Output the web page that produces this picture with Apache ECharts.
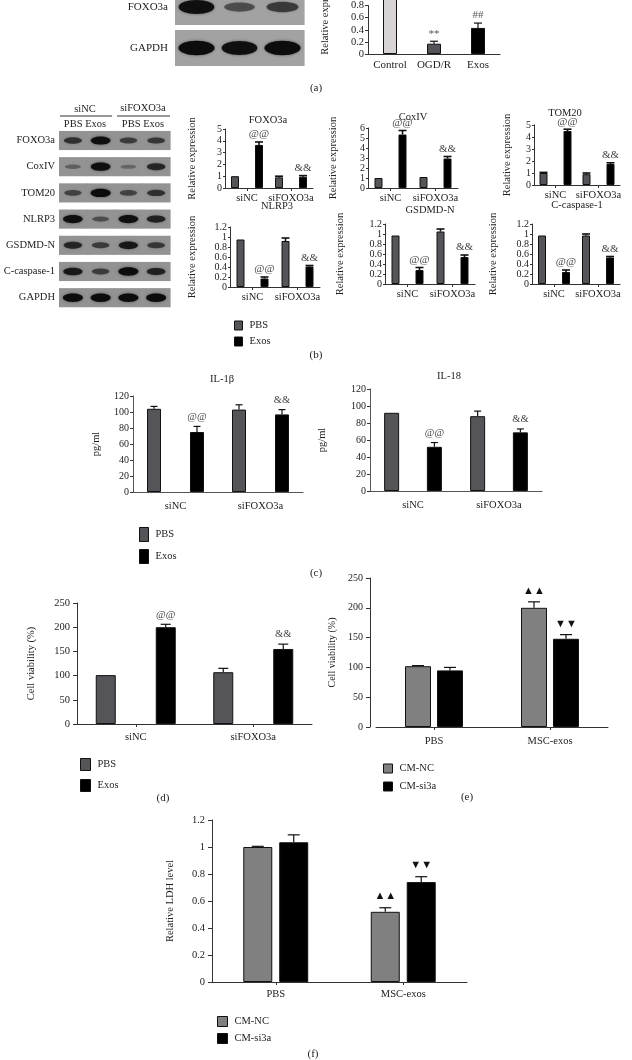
<!DOCTYPE html>
<html>
<head>
<meta charset="utf-8">
<script src="https://cdn.jsdelivr.net/npm/echarts@6/dist/echarts.min.js"></script>
<style>
  html, body { margin: 0; padding: 0; background: #fff; }
  #fig { width: 632px; height: 1060px; }
</style>
</head>
<body>
<div id="fig"></div>
<script>
// ---- data ----
// (a)
const aBlotRows = ['FOXO3a', 'GAPDH'];
const aBlotBands = [[0.95, 0.4, 0.55], [1, 0.95, 1]];
const aCats = ['Control', 'OGD/R', 'Exos'];
const aVals = [1.0, 0.17, 0.43];
const aErr = [1.0, 0.21, 0.51];
const aMarks = ['', '**', '##'];

// (b)
const bBlotRows = ['FOXO3a', 'CoxIV', 'TOM20', 'NLRP3', 'GSDMD-N', 'C-caspase-1', 'GAPDH'];
const bBlotBands = [
  [0.6, 0.95, 0.5, 0.55],
  [0.2, 0.95, 0.15, 0.7],
  [0.45, 1.0, 0.45, 0.6],
  [0.95, 0.35, 0.95, 0.75],
  [0.7, 0.5, 0.85, 0.55],
  [0.85, 0.5, 1.0, 0.75],
  [1, 1, 1, 1]
];
const bCats = ['siNC', 'siFOXO3a'];
const bTitles = ['FOXO3a', 'CoxIV', 'TOM20', 'NLRP3', 'GSDMD-N', 'C-caspase-1'];
const bMax = [5, 6, 5, 1.2, 1.2, 1.2];
const bStep = [1, 1, 1, 0.2, 0.2, 0.2];
const bPbs = [[1.0, 0.9], [1.0, 1.1], [1.0, 0.9], [0.95, 0.92], [0.97, 1.05], [0.97, 0.97]];
const bPbsErr = [[1.0, 1.0], [1.0, 1.15], [1.05, 1.0], [0.95, 0.98], [0.97, 1.1], [0.97, 1.0]];
const bExos = [[3.65, 0.95], [5.35, 2.95], [4.5, 1.75], [0.17, 0.41], [0.28, 0.54], [0.24, 0.53]];
const bExosErr = [[3.9, 1.05], [5.75, 3.15], [4.65, 1.85], [0.2, 0.43], [0.33, 0.58], [0.28, 0.55]];
const bExosMarks = ['@@', '&&'];

// (c)
const cCats = ['siNC', 'siFOXO3a'];
const il1bPbs = [104, 103];
const il1bPbsErr = [107, 109];
const il1bExos = [75, 97];
const il1bExosErr = [82, 103];
const il18Pbs = [92, 88];
const il18PbsErr = [92, 94];
const il18Exos = [52, 69];
const il18ExosErr = [57, 73];

// (d)
const dCats = ['siNC', 'siFOXO3a'];
const dPbs = [101, 107];
const dPbsErr = [101, 115];
const dExos = [200, 155];
const dExosErr = [206, 165];

// (e)
const eCats = ['PBS', 'MSC-exos'];
const eNc = [102, 200];
const eNcErr = [103, 210];
const eSi = [95, 148];
const eSiErr = [100, 155];

// (f)
const fCats = ['PBS', 'MSC-exos'];
const fNc = [1.0, 0.52];
const fNcErr = [1.005, 0.55];
const fSi = [1.035, 0.74];
const fSiErr = [1.09, 0.78];

const ncMarks = ['', '▲▲'];
const siMarks = ['', '▼▼'];

// ---- styling ----
const FONT = 'Liberation Serif';
const TXT = '#222';
const DARK = '#555559';
const MID = '#808080';

const grids = [], xAxes = [], yAxes = [], series = [], legends = [], graphics = [];

function addGrid(box) {
  grids.push(box);
  return grids.length - 1;
}

function catX(gi, cats, o) {
  xAxes.push({
    type: 'category', gridIndex: gi, data: cats,
    axisLine: { lineStyle: { color: o.lineColor || '#333', width: 1 } },
    axisTick: { show: o.tick !== false, alignWithLabel: true, length: 3, lineStyle: { color: '#333' } },
    axisLabel: { fontFamily: FONT, fontSize: o.fs || 11, color: TXT, margin: o.margin || 6, interval: 0 }
  });
}

function valY(gi, min, max, step, o) {
  yAxes.push({
    type: 'value', gridIndex: gi, min, max, interval: step,
    name: o.name, nameLocation: 'middle', nameGap: o.nameGap, nameRotate: 90,
    nameTextStyle: { fontFamily: FONT, fontSize: o.nfs || 10, color: TXT },
    axisLine: { show: true, lineStyle: { color: o.lineColor || '#333', width: 1 } },
    axisTick: { show: true, length: o.tickLen || 3, lineStyle: { color: '#333' } },
    axisLabel: {
      fontFamily: FONT, fontSize: o.fs || 10, color: TXT, margin: o.margin || 4,
      showMinLabel: true, showMaxLabel: true
    },
    splitLine: { show: false }
  });
}

function errSeries(gi, vals, errs, marks, off, o) {
  return {
    type: 'custom', xAxisIndex: gi, yAxisIndex: gi, z: 5, silent: true, clip: false,
    data: vals.map((v, i) => [i, v, errs[i]]),
    renderItem: (params, api) => {
      const i = params.dataIndex;
      const b = api.coord([api.value(0), api.value(1)]);
      const t = api.coord([api.value(0), api.value(2)]);
      const x = b[0] + off;
      const lw = o.lw || 1.2;
      const kids = [];
      if (t[1] < b[1] - 0.5) {
        kids.push({ type: 'line', shape: { x1: x, y1: b[1], x2: x, y2: t[1] }, style: { stroke: '#111', lineWidth: lw } });
        kids.push({ type: 'line', shape: { x1: x - o.cap / 2, y1: t[1], x2: x + o.cap / 2, y2: t[1] }, style: { stroke: '#111', lineWidth: lw } });
      }
      if (marks && marks[i]) {
        kids.push({
          type: 'text', x: x, y: t[1] - (o.markGap || 2),
          style: {
            text: marks[i], fill: o.markColor || '#333', fontFamily: FONT, fontSize: o.mfs || 11,
            align: 'center', verticalAlign: 'bottom', textAlign: 'center', textVerticalAlign: 'bottom'
          }
        });
      }
      return { type: 'group', children: kids };
    }
  };
}

function barPair(gi, names, colors, vals, errs, marks, bw, gap, o) {
  const off = bw * (1 + gap) / 2;
  names.forEach((nm, k) => {
    series.push({
      type: 'bar', name: nm, xAxisIndex: gi, yAxisIndex: gi, data: vals[k],
      barWidth: bw, barGap: (gap * 100) + '%', z: 2,
      itemStyle: { color: colors[k], borderColor: '#111', borderWidth: 1 }
    });
    series.push(errSeries(gi, vals[k], errs[k], marks[k], k === 0 ? -off : off, o));
  });
}

// western blot strip: lanes on x, rows on an inverted y, row names drawn left of lane 0
function blot(box, rows, bands, o) {
  const gi = addGrid(box);
  xAxes.push({ type: 'value', gridIndex: gi, min: -0.5, max: bands[0].length - 0.5, show: false });
  yAxes.push({ type: 'value', gridIndex: gi, min: o.yMin, max: o.yMax, inverse: true, show: false });
  const data = [];
  bands.forEach((r, ri) => r.forEach((v, li) => data.push([li, ri, v])));
  series.push({
    type: 'custom', xAxisIndex: gi, yAxisIndex: gi, silent: true, clip: false, data,
    renderItem: (params, api) => {
      const li = api.value(0), ri = api.value(1), I = api.value(2);
      const c = api.coord([li, ri]);
      const s = api.size([1, 1]);
      const h = s[1] * o.boxFrac;
      const kids = [
        { type: 'rect', shape: { x: c[0] - s[0] / 2, y: c[1] - h / 2, width: s[0] + 0.6, height: h }, style: { fill: o.bg } },
        {
          type: 'ellipse',
          shape: { cx: c[0], cy: c[1], rx: s[0] * o.bandFrac * (0.75 + 0.25 * I), ry: h * o.bandH * (0.4 + 0.6 * I) },
          style: { fill: 'rgba(12,12,12,' + (0.2 + 0.8 * I) + ')', shadowBlur: 3, shadowColor: 'rgba(12,12,12,' + (0.5 * I) + ')' }
        }
      ];
      if (li === 0) {
        kids.push({
          type: 'text', x: c[0] - s[0] / 2 - o.margin, y: c[1],
          style: {
            text: rows[ri], fill: TXT, fontFamily: FONT, fontSize: o.fs,
            align: 'right', verticalAlign: 'middle', textAlign: 'right', textVerticalAlign: 'middle'
          }
        });
      }
      return { type: 'group', children: kids };
    }
  });
}

function text(x, y, str, fs, rot) {
  graphics.push({
    type: 'text', x, y, rotation: rot || 0, silent: true,
    style: {
      text: str, fill: TXT, fontFamily: FONT, fontSize: fs,
      align: 'center', verticalAlign: 'middle', textAlign: 'center', textVerticalAlign: 'middle'
    }
  });
}

function legend(left, top, names, iw, ih, gap) {
  legends.push({
    left, top, orient: 'vertical', itemWidth: iw, itemHeight: ih, itemGap: gap,
    icon: 'rect', data: names, selectedMode: false,
    itemStyle: { borderColor: '#111', borderWidth: 1 },
    textStyle: { fontFamily: FONT, fontSize: 10.5, color: TXT, padding: [0, 0, 0, 2] }
  });
}

// ---- panel (a) ----
blot({ left: 175, top: 0, width: 129, height: 66 }, aBlotRows, aBlotBands,
  { fs: 11, margin: 7, boxFrac: 0.88, bandFrac: 0.42, bandH: 0.2, bg: '#a2a2a2', yMin: -0.171, yMax: 1.439 });

const aColors = ['#d8d4d6', DARK, '#000'];
{
  const gi = addGrid({ left: 368, top: 0, width: 132, height: 54 });
  catX(gi, aCats, { fs: 11, margin: 6, tick: false });
  valY(gi, 0, 0.8, 0.2, { fs: 10.5 });
  series.push({
    type: 'bar', name: 'FOXO3a level', xAxisIndex: gi, yAxisIndex: gi, barWidth: 14, z: 2, clip: false,
    data: aVals.map((v, i) => ({ value: v, itemStyle: { color: aColors[i] } })),
    itemStyle: { borderColor: '#111', borderWidth: 1 }
  });
  series.push(errSeries(gi, aVals, aErr, aMarks, 0, { cap: 8, lw: 1.2, mfs: 11, markGap: 2, markColor: '#555' }));
}
text(325, 13.5, 'Relative expression', 10.5, Math.PI / 2);
text(316, 88, '(a)', 11);

// ---- panel (b) ----
blot({ left: 59, top: 127.4, width: 111, height: 183.4 }, bBlotRows, bBlotBands,
  { fs: 10.5, margin: 4, boxFrac: 0.73, bandFrac: 0.36, bandH: 0.22, bg: '#939393', yMin: -0.5, yMax: 6.5 });
text(85, 109, 'siNC', 10.5);
text(143, 108, 'siFOXO3a', 10.5);
text(85, 124, 'PBS Exos', 10.5);
text(143, 124, 'PBS Exos', 10.5);
graphics.push({ type: 'line', silent: true, shape: { x1: 60, y1: 116, x2: 112, y2: 116 }, style: { stroke: '#333', lineWidth: 1 } });
graphics.push({ type: 'line', silent: true, shape: { x1: 117, y1: 116, x2: 170, y2: 116 }, style: { stroke: '#333', lineWidth: 1 } });

const bBoxes = [
  { left: 225, top: 129, width: 88, height: 59 },
  { left: 368, top: 128, width: 90, height: 60 },
  { left: 534, top: 125, width: 86, height: 60 },
  { left: 230, top: 227, width: 90, height: 60 },
  { left: 385, top: 224, width: 90, height: 60 },
  { left: 532, top: 224, width: 88, height: 60 }
];
const bNameGaps = [27, 29, 21, 32, 39, 33];
const bTitlePos = [[268, 120], [413, 117], [565, 113], [277, 206], [430, 210], [577, 205]];
bBoxes.forEach((box, k) => {
  const gi = addGrid(box);
  catX(gi, bCats, { fs: 10.5, margin: 5 });
  valY(gi, 0, bMax[k], bStep[k], { name: 'Relative expression', nameGap: bNameGaps[k], fs: 10, nfs: 10.5, tickLen: 2, margin: 3 });
  barPair(gi, ['PBS', 'Exos'], [DARK, '#000'],
    [bPbs[k], bExos[k]], [bPbsErr[k], bExosErr[k]], [null, bExosMarks],
    8, 2, { cap: 8, lw: 1.6, mfs: 11, markGap: 2, markColor: '#444' });
  text(bTitlePos[k][0], bTitlePos[k][1], bTitles[k], 10.5);
});
legend(229, 315, ['PBS', 'Exos'], 8, 9, 5);
text(316, 355, '(b)', 11);

// ---- panel (c) ----
{
  const gi = addGrid({ left: 133, top: 396, width: 170, height: 96 });
  catX(gi, cCats, { fs: 10.5, margin: 9, tick: false, lineColor: '#555' });
  valY(gi, 0, 120, 20, { name: 'pg/ml', nameGap: 31, fs: 10, nfs: 10.5, lineColor: '#555' });
  barPair(gi, ['PBS', 'Exos'], [DARK, '#000'], [il1bPbs, il1bExos], [il1bPbsErr, il1bExosErr],
    [null, bExosMarks], 14, 2.07, { cap: 7, lw: 1.2, mfs: 10.5, markGap: 4, markColor: '#444' });
  text(222, 379, 'IL-1β', 10.5);
}
{
  const gi = addGrid({ left: 370, top: 389, width: 172, height: 102 });
  catX(gi, cCats, { fs: 10.5, margin: 9, tick: false, lineColor: '#555' });
  valY(gi, 0, 120, 20, { name: 'pg/ml', nameGap: 42, fs: 10, nfs: 10.5, lineColor: '#555' });
  barPair(gi, ['PBS', 'Exos'], [DARK, '#000'], [il18Pbs, il18Exos], [il18PbsErr, il18ExosErr],
    [null, bExosMarks], 15, 1.85, { cap: 7, lw: 1.2, mfs: 10.5, markGap: 4, markColor: '#444' });
  text(449, 376, 'IL-18', 10.5);
}
legend(134, 522, ['PBS', 'Exos'], 9, 14, 7);
text(316, 573, '(c)', 11);

// ---- panel (d) ----
{
  const gi = addGrid({ left: 77, top: 603, width: 235, height: 121 });
  catX(gi, dCats, { fs: 10.5, margin: 8 });
  valY(gi, 0, 250, 50, { name: 'Cell viability (%)', nameGap: 40, fs: 10.5, nfs: 10.5, tickLen: 4, margin: 7 });
  barPair(gi, ['PBS', 'Exos'], [DARK, '#000'], [dPbs, dExos], [dPbsErr, dExosErr],
    [null, bExosMarks], 20, 2, { cap: 10, lw: 1.2, mfs: 10.5, markGap: 4, markColor: '#444' });
}
legend(75, 753, ['PBS', 'Exos'], 10, 12, 8);
text(163, 798, '(d)', 11);

// ---- panel (e) ----
{
  const gi = addGrid({ left: 376, top: 578, width: 232, height: 149 });
  catX(gi, eCats, { fs: 10.5, margin: 9 });
  valY(gi, 0, 250, 50, { name: 'Cell viability (%)', nameGap: 33, fs: 10, nfs: 10, tickLen: 4, margin: 7 });
  yAxes[yAxes.length - 1].offset = 6;
  barPair(gi, ['CM-NC', 'CM-si3a'], [MID, '#000'], [eNc, eSi], [eNcErr, eSiErr],
    [ncMarks, siMarks], 26, 0.23, { cap: 12, lw: 1.2, mfs: 11, markGap: 5, markColor: '#111' });
}
legend(378, 758, ['CM-NC', 'CM-si3a'], 9, 9, 7);
text(467, 797, '(e)', 11);

// ---- panel (f) ----
{
  const gi = addGrid({ left: 212, top: 820, width: 255, height: 162 });
  catX(gi, fCats, { fs: 10.5, margin: 7 });
  valY(gi, 0, 1.2, 0.2, { name: 'Relative LDH level', nameGap: 36, fs: 10.5, nfs: 10.5, tickLen: 4, margin: 7 });
  barPair(gi, ['CM-NC', 'CM-si3a'], [MID, '#000'], [fNc, fSi], [fNcErr, fSiErr],
    [ncMarks, siMarks], 29, 0.24, { cap: 12, lw: 1.2, mfs: 11, markGap: 6, markColor: '#111' });
}
legend(212, 1011, ['CM-NC', 'CM-si3a'], 10, 10, 6);
text(313, 1054, '(f)', 11);

const chart = echarts.init(document.getElementById('fig'));
chart.setOption({
  animation: false,
  backgroundColor: '#fff',
  textStyle: { fontFamily: FONT },
  grid: grids,
  xAxis: xAxes,
  yAxis: yAxes,
  legend: legends,
  graphic: { elements: graphics },
  series: series
});
</script>
</body>
</html>
